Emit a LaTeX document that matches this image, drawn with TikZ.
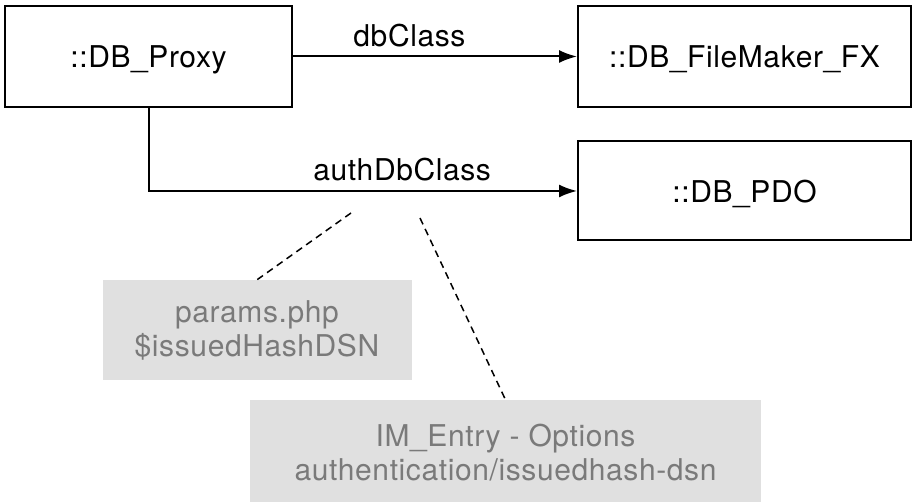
\documentclass[tikz,border=0pt]{standalone}
\usepackage{fontspec}
\setmainfont{TeX Gyre Heros}[LetterSpace=2]
\usepackage{xcolor}
\usetikzlibrary{arrows.meta}

\definecolor{cfgfill}{HTML}{E0E0E0}
\definecolor{cfgtext}{HTML}{7A7A7A}

\begin{document}
\begin{tikzpicture}[x=1pt, y=-1pt,
      font=\fontsize{30}{34}\selectfont,
      cls/.style={draw, line width=2pt, inner sep=0pt, minimum height=101pt,
        text height=23pt, text depth=0pt},
      cfg/.style={fill=cfgfill, text=cfgtext, align=center, inner sep=0pt},
      link/.style={line width=2pt, -{Latex[length=18pt,width=13pt]}},
      note/.style={line width=1.5pt, dash pattern=on 7pt off 5pt},
      lbl/.style={inner sep=0pt}]
      \useasboundingbox (0,0) rectangle (916,502);
      \node[cls, minimum width=287pt] (proxy) at (148.5,56.5) {::DB\_Proxy};
      \node[cls, minimum width=333pt] (fx) at (744.5,56.5) {::DB\_FileMaker\_FX};
      \node[cls, minimum width=333pt, minimum height=99pt] (pdo) at (744.5,191) {::DB\_PDO};
      \node[cfg, minimum width=309pt, minimum height=100pt] (params) at (257,330)
        {params.php\\\$issuedHashDSN};
      \node[cfg, minimum width=511pt, minimum height=105pt] (entry) at (505.5,452.5)
        {IM\_Entry - Options\\authentication/issuedhash-dsn};
      \coordinate (n1) at (351,213);
      \coordinate (n2) at (420,218);
      \draw[link] (proxy) -- node[lbl, pos=0.41, above=8pt]{dbClass} (fx);
      \draw[link] (proxy.south) |- node[lbl, pos=0.796, above=9pt]{authDbClass} (pdo.west);
      % notes
      \draw[note] (n1) -- (params.north);
      \draw[note] (n2) -- (entry.north);
    \end{tikzpicture}
\end{document}
